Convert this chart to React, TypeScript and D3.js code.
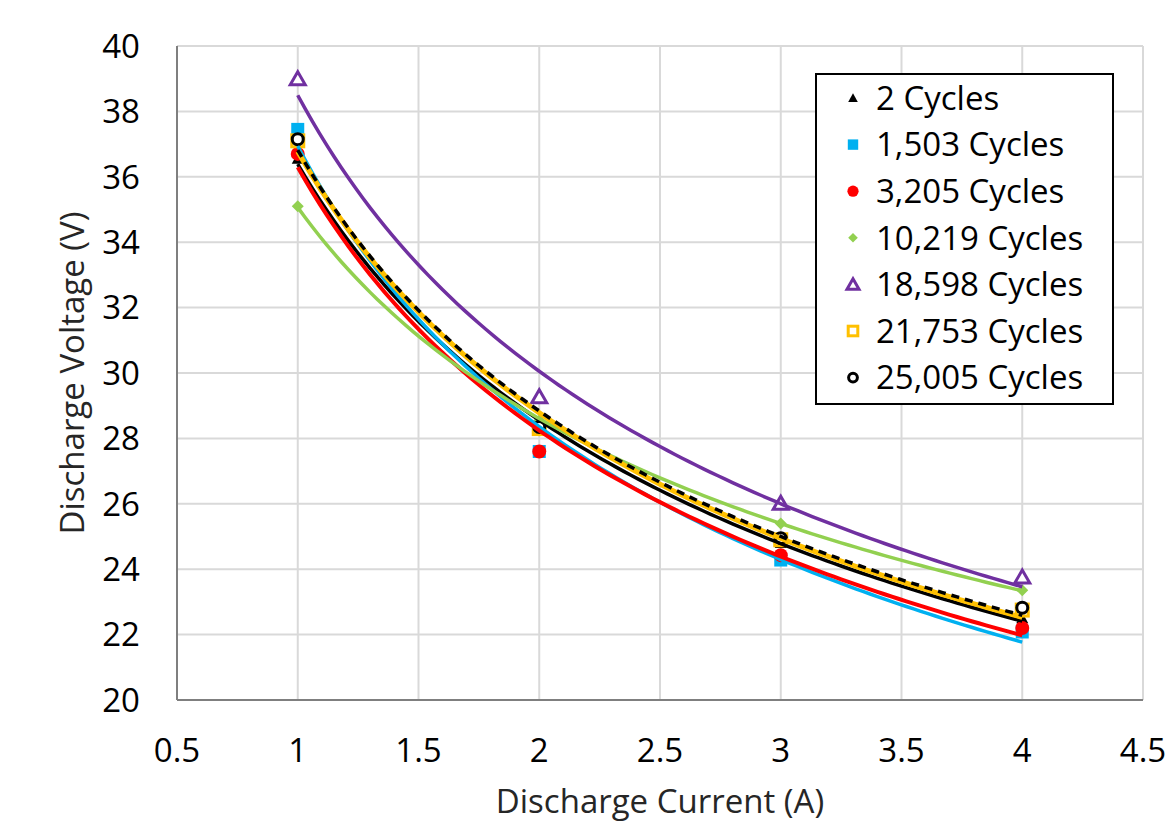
import React from "react";
import * as d3 from "d3";

const currents = [1, 2, 3, 4];
const seriesNames = ["2 Cycles", "1,503 Cycles", "3,205 Cycles", "10,219 Cycles", "18,598 Cycles", "21,753 Cycles", "25,005 Cycles"];
const v2 = [36.55, 28.3, 24.8, 22.5];
const v1503 = [37.45, 27.6, 24.28, 22.08];
const v3205 = [36.7, 27.6, 24.43, 22.2];
const v10219 = [35.1, 28.55, 25.4, 23.36];
const v18598 = [39.0, 29.27, 26.02, 23.76];
const v21753 = [37.1, 28.3, 24.9, 22.75];
const v25005 = [37.15, 28.35, 24.95, 22.82];
const xTicks = [0.5, 1, 1.5, 2, 2.5, 3, 3.5, 4, 4.5];
const yTicks = [20, 22, 24, 26, 28, 30, 32, 34, 36, 38, 40];

const styles = [
  { color: "#000000", marker: "triFill", dash: "", lw: 3.5 },
  { color: "#00B0F0", marker: "sqFill", dash: "", lw: 3.5 },
  { color: "#FF0000", marker: "circFill", dash: "", lw: 4 },
  { color: "#92D050", marker: "diamond", dash: "", lw: 3.5 },
  { color: "#7030A0", marker: "triOpen", dash: "", lw: 3.5 },
  { color: "#FFC000", marker: "sqOpen", dash: "", lw: 5 },
  { color: "#000000", marker: "circOpen", dash: "8,6", lw: 3.5 },
];
const allValues = [v2, v1503, v3205, v10219, v18598, v21753, v25005];

function powerFit(xs: number[], ys: number[]) {
  const lx = xs.map(Math.log), ly = ys.map(Math.log);
  const mx = d3.mean(lx)!, my = d3.mean(ly)!;
  let num = 0, den = 0;
  lx.forEach((v, i) => { num += (v - mx) * (ly[i] - my); den += (v - mx) ** 2; });
  const b = num / den;
  const a = Math.exp(my - b * mx);
  return (x: number) => a * Math.pow(x, b);
}

function Marker({ kind, color, x, y, s = 1 }: any) {
  switch (kind) {
    case "triFill":
      return <path d={`M${x},${y - 6 * s}L${x + 6 * s},${y + 5 * s}L${x - 6 * s},${y + 5 * s}Z`} fill={color} />;
    case "sqFill":
      return <rect x={x - 6.5 * s} y={y - 6.5 * s} width={13 * s} height={13 * s} fill={color} />;
    case "circFill":
      return <circle cx={x} cy={y} r={7 * s} fill={color} />;
    case "diamond":
      return <path d={`M${x},${y - 6 * s}L${x + 6 * s},${y}L${x},${y + 6 * s}L${x - 6 * s},${y}Z`} fill={color} />;
    case "triOpen":
      return <path d={`M${x},${y - 7 * s}L${x + 7.5 * s},${y + 6 * s}L${x - 7.5 * s},${y + 6 * s}Z`} fill="white" stroke={color} strokeWidth={3} strokeLinejoin="miter" />;
    case "sqOpen":
      return <rect x={x - 6 * s} y={y - 6 * s} width={12 * s} height={12 * s} fill="white" stroke={color} strokeWidth={3} />;
    case "circOpen":
      return <circle cx={x} cy={y} r={5.5 * s} fill="white" stroke={color} strokeWidth={3} />;
  }
  return null;
}

export default function App() {
  const W = 1171, H = 823;
  const x = d3.scaleLinear().domain([0.5, 4.5]).range([177, 1143]);
  const y = d3.scaleLinear().domain([20, 40]).range([700, 46]);
  const font = "Open Sans, sans-serif";
  const samples = d3.range(0, 101).map((i) => 1 + (3 * i) / 100);
  const line = d3.line<[number, number]>().x((d) => x(d[0])).y((d) => y(d[1]));

  return (
    <svg width={W} height={H} style={{ position: "absolute", left: 0, top: 0, background: "white" }} fontFamily={font}>
      <rect x={0} y={0} width={W} height={H} fill="white" />
      {xTicks.map((t) => (
        <line key={"gx" + t} x1={x(t)} x2={x(t)} y1={y(20)} y2={y(40)} stroke="#D9D9D9" strokeWidth={2} />
      ))}
      {yTicks.map((t) => (
        <line key={"gy" + t} x1={x(0.5)} x2={x(4.5)} y1={y(t)} y2={y(t)} stroke="#D9D9D9" strokeWidth={2} />
      ))}
      <line x1={x(0.5)} x2={x(4.5)} y1={y(20)} y2={y(20)} stroke="#7F7F7F" strokeWidth={2} />
      <line x1={x(0.5)} x2={x(0.5)} y1={y(20)} y2={y(40)} stroke="#7F7F7F" strokeWidth={2} />
      {yTicks.map((t) => (
        <text key={"ty" + t} x={140} y={y(t)} dy="0.36em" textAnchor="end" fontSize={33} fill="#000">{t}</text>
      ))}
      {xTicks.map((t) => (
        <text key={"tx" + t} x={x(t)} y={762} textAnchor="middle" fontSize={33} fill="#000">{t}</text>
      ))}
      <text x={660} y={813} textAnchor="middle" fontSize={33} fill="#262626">Discharge Current (A)</text>
      <text transform={`translate(84,${y(30)}) rotate(-90)`} textAnchor="middle" fontSize={33} fill="#262626">Discharge Voltage (V)</text>

      {allValues.map((vals, i) => (
        <g key={"m" + i}>
          {vals.map((v, j) => (
            <Marker key={j} kind={styles[i].marker} color={styles[i].color} x={x(currents[j])} y={y(v)} />
          ))}
        </g>
      ))}
      {allValues.map((vals, i) => {
        const f = powerFit(currents, vals);
        const pts = samples.map((s) => [s, f(s)] as [number, number]);
        const st = styles[i];
        return (
          <path key={"l" + i} d={line(pts)!} fill="none" stroke={st.color} strokeWidth={st.lw} strokeDasharray={st.dash || undefined} />
        );
      })}

      <rect x={816} y={74} width={297} height={330} fill="white" stroke="#000" strokeWidth={2} />
      {seriesNames.map((n, i) => {
        const cy = 98 + i * 46.6;
        return (
          <g key={"lg" + i}>
            <Marker kind={styles[i].marker} color={styles[i].color} x={853} y={cy} s={0.8} />
            <text x={876} y={cy} dy="0.36em" fontSize={33} fill="#000">{n}</text>
          </g>
        );
      })}
    </svg>
  );
}
